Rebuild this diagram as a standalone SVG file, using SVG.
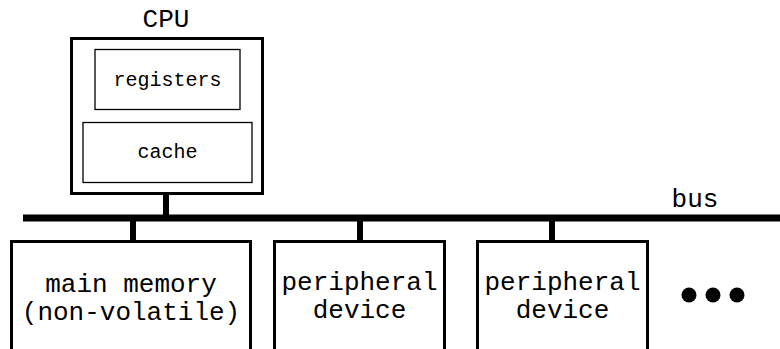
<svg xmlns="http://www.w3.org/2000/svg" width="780" height="349" viewBox="0 0 780 349">
  <style>
    text { font-family: "Liberation Mono", "Courier New", monospace; fill: #000; text-anchor: middle; }
    .big { font-size: 26px; }
    .small { font-size: 20px; }
    .box { fill: #fff; stroke: #000; stroke-width: 3; }
    .inner { fill: #fff; stroke: #000; stroke-width: 1.3; }
    .wire { stroke: #000; stroke-width: 6; fill: none; }
  </style>

  <!-- bus and taps -->
  <g id="connectors">
    <line class="wire" x1="166" y1="193" x2="166" y2="216"/>
    <line x1="23" y1="218" x2="780" y2="218" stroke="#000" stroke-width="7"/>
    <line class="wire" x1="133" y1="220" x2="133" y2="241"/>
    <line class="wire" x1="360" y1="220" x2="360" y2="241"/>
    <line class="wire" x1="552" y1="220" x2="552" y2="241"/>
  </g>

  <g id="bus-label">
    <text class="big" x="695" y="207">bus</text>
  </g>

  <g id="cpu">
    <text class="big" x="166" y="27">CPU</text>
    <rect class="box" x="71.5" y="38.5" width="191" height="155"/>
    <g id="registers">
      <rect class="inner" x="95" y="49.5" width="145" height="60"/>
      <text class="small" x="167.5" y="86">registers</text>
    </g>
    <g id="cache">
      <rect class="inner" x="83" y="122.5" width="169" height="60"/>
      <text class="small" x="167.5" y="158">cache</text>
    </g>
  </g>

  <g id="main-memory">
    <rect class="box" x="11.5" y="241.5" width="239" height="120"/>
    <text class="big" x="131" y="292">main memory</text>
    <text class="big" x="131" y="320">(non-volatile)</text>
  </g>

  <g id="peripheral-1">
    <rect class="box" x="274.5" y="241.5" width="170" height="120"/>
    <text class="big" x="359.5" y="290">peripheral</text>
    <text class="big" x="359.5" y="318">device</text>
  </g>

  <g id="peripheral-2">
    <rect class="box" x="477.5" y="241.5" width="170" height="120"/>
    <text class="big" x="562.5" y="290">peripheral</text>
    <text class="big" x="562.5" y="318">device</text>
  </g>

  <g id="more">
    <circle cx="689" cy="295" r="7.5"/>
    <circle cx="713" cy="295" r="7.5"/>
    <circle cx="737" cy="295" r="7.5"/>
  </g>
</svg>
